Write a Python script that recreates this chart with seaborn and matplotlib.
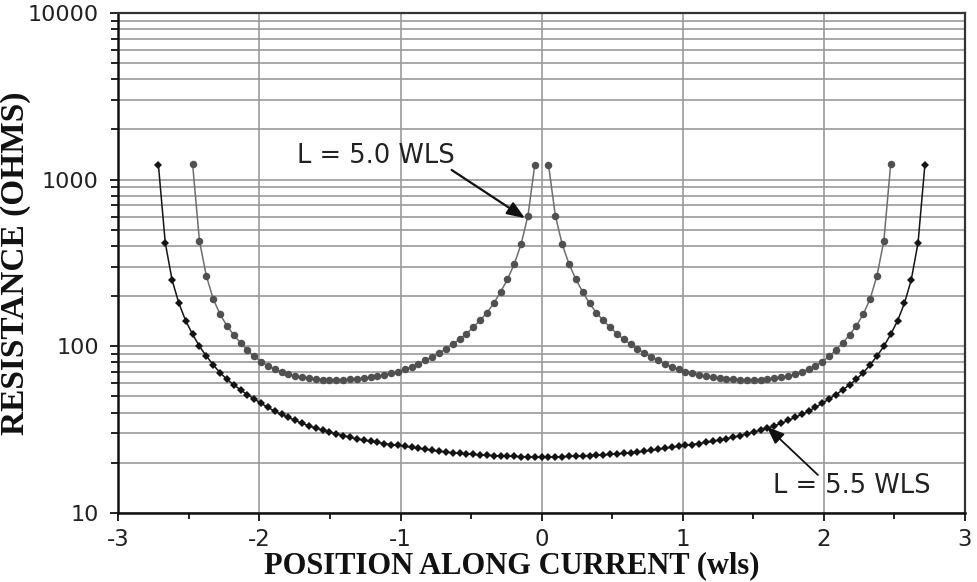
import numpy as np
import pandas as pd
import matplotlib
matplotlib.use("Agg")
import matplotlib.pyplot as plt
from matplotlib.ticker import LogLocator, FixedLocator, NullFormatter, FuncFormatter
import seaborn as sns

# ---------------- data ----------------
# L = 5.0 WLS, left branch
pos_50_left = [-2.4735, -2.425, -2.3765, -2.328, -2.2795, -2.231, -2.1825, -2.134, -2.0855, -2.037,
               -1.9885, -1.94, -1.8915, -1.843, -1.7945, -1.746, -1.6975, -1.649, -1.6005, -1.552,
               -1.5035, -1.455, -1.4065, -1.358, -1.3095, -1.261, -1.2125, -1.164, -1.1155, -1.067,
               -1.0185, -0.97, -0.9215, -0.873, -0.8245, -0.776, -0.7275, -0.679, -0.6305, -0.582,
               -0.5335, -0.485, -0.4365, -0.388, -0.3395, -0.291, -0.2425, -0.194, -0.1455, -0.097,
               -0.0485]
res_50_left = [1240, 429, 265, 193, 156, 133, 117, 105, 95.0, 87.0,
               81.0, 76.5, 73.0, 70.2, 67.9, 66.2, 65.0, 64.2, 63.6, 63.2,
               63.0, 62.9, 63.0, 63.3, 63.7, 64.3, 65.1, 66.1, 67.3, 68.8,
               70.5, 72.6, 75.3, 78.5, 82.3, 86.5, 91.0, 96.5, 103, 110,
               119, 130, 143, 159, 181, 212, 252, 312, 410, 608,
               1230]
# L = 5.0 WLS, right branch
pos_50_right = [0.0485, 0.097, 0.1455, 0.194, 0.2425, 0.291, 0.3395, 0.388, 0.4365, 0.485,
                0.5335, 0.582, 0.6305, 0.679, 0.7275, 0.776, 0.8245, 0.873, 0.9215, 0.97,
                1.0185, 1.067, 1.1155, 1.164, 1.2125, 1.261, 1.3095, 1.358, 1.4065, 1.455,
                1.5035, 1.552, 1.6005, 1.649, 1.6975, 1.746, 1.7945, 1.843, 1.8915, 1.94,
                1.9885, 2.037, 2.0855, 2.134, 2.1825, 2.231, 2.2795, 2.328, 2.3765, 2.425,
                2.4735]
res_50_right = [1230, 608, 410, 312, 252, 212, 181, 159, 143, 130,
                119, 110, 103, 96.5, 91.0, 86.5, 82.3, 78.5, 75.3, 72.6,
                70.5, 68.8, 67.3, 66.1, 65.1, 64.3, 63.7, 63.3, 63.0, 62.9,
                63.0, 63.2, 63.6, 64.2, 65.0, 66.2, 67.9, 70.2, 73.0, 76.5,
                81.0, 87.0, 95.0, 105, 117, 133, 156, 193, 265, 429,
                1240]
# L = 5.5 WLS
pos_55 = [-2.716, -2.6675, -2.619, -2.5705, -2.522, -2.4735, -2.425, -2.3765, -2.328, -2.2795,
          -2.231, -2.1825, -2.134, -2.0855, -2.037, -1.9885, -1.94, -1.8915, -1.843, -1.7945,
          -1.746, -1.6975, -1.649, -1.6005, -1.552, -1.5035, -1.455, -1.4065, -1.358, -1.3095,
          -1.261, -1.2125, -1.164, -1.1155, -1.067, -1.0185, -0.97, -0.9215, -0.873, -0.8245,
          -0.776, -0.7275, -0.679, -0.6305, -0.582, -0.5335, -0.485, -0.4365, -0.388, -0.3395,
          -0.291, -0.2425, -0.194, -0.1455, -0.097, -0.0485, 0.0,
          0.0485, 0.097, 0.1455, 0.194, 0.2425, 0.291, 0.3395, 0.388, 0.4365, 0.485,
          0.5335, 0.582, 0.6305, 0.679, 0.7275, 0.776, 0.8245, 0.873, 0.9215, 0.97,
          1.0185, 1.067, 1.1155, 1.164, 1.2125, 1.261, 1.3095, 1.358, 1.4065, 1.455,
          1.5035, 1.552, 1.6005, 1.649, 1.6975, 1.746, 1.7945, 1.843, 1.8915, 1.94,
          1.9885, 2.037, 2.0855, 2.134, 2.1825, 2.231, 2.2795, 2.328, 2.3765, 2.425,
          2.4735, 2.522, 2.5705, 2.619, 2.6675, 2.716]
res_55 = [1230, 419, 250, 181, 142, 118, 100, 87.5, 77.5, 69.5,
          63.5, 58.8, 54.8, 51.3, 48.3, 45.5, 43.0, 40.8, 39.0, 37.4,
          35.9, 34.5, 33.3, 32.3, 31.4, 30.6, 29.8, 29.1, 28.45, 27.85,
          27.35, 26.9, 26.5, 26.1, 25.75, 25.45, 25.15, 24.8, 24.45, 24.1,
          23.75, 23.45, 23.2, 22.95, 22.8, 22.6, 22.45, 22.3, 22.2, 22.1,
          22.0, 21.9, 21.85, 21.75, 21.65, 21.6, 21.6,
          21.6, 21.65, 21.75, 21.85, 21.9, 22.0, 22.1, 22.2, 22.3, 22.45,
          22.6, 22.8, 22.95, 23.2, 23.45, 23.75, 24.1, 24.45, 24.8, 25.15,
          25.45, 25.75, 26.1, 26.5, 26.9, 27.35, 27.85, 28.45, 29.1, 29.8,
          30.6, 31.4, 32.3, 33.3, 34.5, 35.9, 37.4, 39.0, 40.8, 43.0,
          45.5, 48.3, 51.3, 54.8, 58.8, 63.5, 69.5, 77.5, 87.5, 100,
          118, 142, 181, 250, 419, 1230]

x_ticks = [-3, -2, -1, 0, 1, 2, 3]
y_ticks = [10, 100, 1000, 10000]
label_50 = "L = 5.0 WLS"
label_55 = "L = 5.5 WLS"
x_title = "POSITION ALONG CURRENT (wls)"
y_title = "RESISTANCE (OHMS)"

df_50l = pd.DataFrame({"pos": pos_50_left, "res": res_50_left})
df_50r = pd.DataFrame({"pos": pos_50_right, "res": res_50_right})
df_55 = pd.DataFrame({"pos": pos_55, "res": res_55})

# ---------------- style ----------------
sns.set_theme(style="white")
plt.rcParams["font.family"] = ["DejaVu Sans"]

fig = plt.figure(figsize=(9.77, 5.82), dpi=100)
ax = fig.add_axes([0.1211, 0.1186, 0.8666, 0.8591])

gray_c = "#505050"
gray_line = "#6e6e6e"
black_c = "#141414"

for d in (df_50l, df_50r):
    sns.lineplot(data=d, x="pos", y="res", ax=ax, sort=False, estimator=None,
                 color=gray_line, lw=1.1, marker="o", markersize=5.4,
                 markeredgewidth=0, markerfacecolor=gray_c, zorder=4)
sns.lineplot(data=df_55, x="pos", y="res", ax=ax, sort=False, estimator=None,
             color=black_c, lw=1.1, marker="D", markersize=4.2,
             markeredgewidth=0, markerfacecolor=black_c, zorder=5)

ax.set_yscale("log")
ax.set_xlim(-3, 3)
ax.set_ylim(10, 10000)

ax.xaxis.set_major_locator(FixedLocator(x_ticks))
ax.xaxis.set_minor_locator(FixedLocator([-2.5, -1.5, -0.5, 0.5, 1.5, 2.5]))
ax.yaxis.set_major_locator(FixedLocator(y_ticks))
ax.yaxis.set_minor_locator(LogLocator(base=10, subs=np.arange(2, 10)))
ax.yaxis.set_major_formatter(FuncFormatter(lambda v, p: f"{v:g}"))
ax.yaxis.set_minor_formatter(NullFormatter())
ax.xaxis.set_major_formatter(FuncFormatter(lambda v, p: f"{v:g}"))

grid_c = "#9a9a9a"
ax.grid(True, which="major", axis="both", color=grid_c, lw=1.2, zorder=1)
ax.grid(True, which="minor", axis="y", color=grid_c, lw=1.2, zorder=1)
ax.set_axisbelow(True)

ax.tick_params(axis="x", which="major", direction="out", length=6, width=1.3,
               color="#111111", labelsize=16.5, pad=5, labelcolor="#222222", bottom=True)
ax.tick_params(axis="x", which="minor", direction="out", length=4, width=1.3,
               color="#111111", bottom=True)
ax.tick_params(axis="y", which="major", direction="out", length=6, width=1.3,
               color="#111111", labelsize=16, pad=8, labelcolor="#222222", left=True)
ax.tick_params(axis="y", which="minor", direction="out", length=5, width=1.3,
               color="#111111", left=True)

for side in ("left", "bottom"):
    ax.spines[side].set_color("#111111")
    ax.spines[side].set_linewidth(1.8)
for side in ("top", "right"):
    ax.spines[side].set_color("#333333")
    ax.spines[side].set_linewidth(1.6)

ax.set_xlabel("")
ax.set_ylabel("")

fig.text(512 / 977, 1 - 573 / 582, x_title, ha="center", va="baseline",
         fontsize=22, fontweight="bold", family=["Liberation Serif"], color="#111111")
fig.text(16 / 977, 1 - 263 / 582, y_title, ha="center", va="center", rotation=90,
         fontsize=24, fontweight="bold", family=["Liberation Serif"], color="#111111")

# annotations
ax.text(-1.734, 1259, label_50, ha="left", va="baseline", fontsize=18.5, color="#222222", zorder=6)
ax.annotate("", xy=(-0.118, 587), xytext=(-0.638, 1143),
            arrowprops=dict(arrowstyle="-|>,head_length=0.9,head_width=0.35",
                            color="#111111", lw=1.6, shrinkA=0, shrinkB=0), zorder=6)
ax.text(1.638, 13.2, label_55, ha="left", va="baseline", fontsize=18.5, color="#222222", zorder=6)
ax.annotate("", xy=(1.595, 33), xytext=(1.958, 16.9),
            arrowprops=dict(arrowstyle="-|>,head_length=0.9,head_width=0.35",
                            color="#111111", lw=1.3, shrinkA=0, shrinkB=0), zorder=6)

fig.savefig("out.png", dpi=100)
